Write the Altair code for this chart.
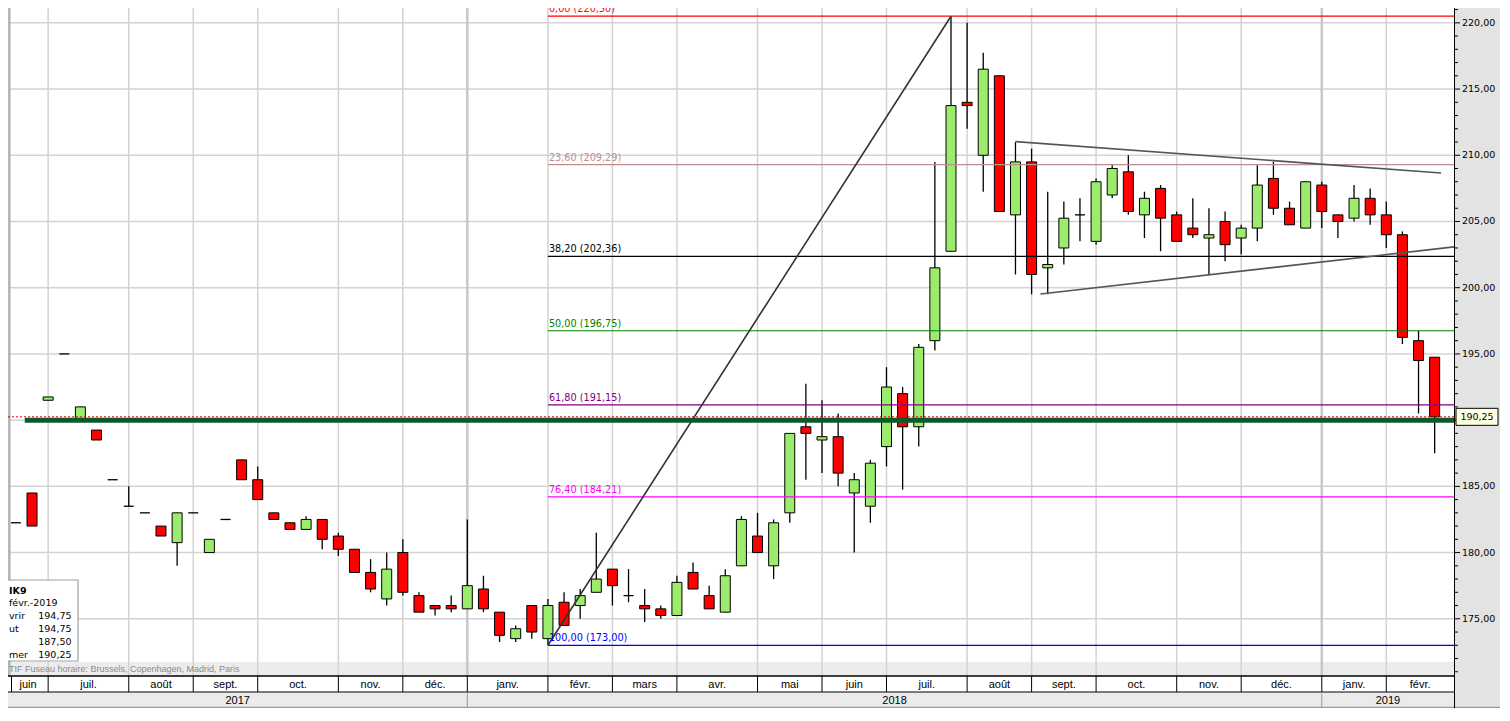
import altair as alt
import pandas as pd

# ---------------- data (weekly candles, week of 19 June 2017 -> week of 25 Feb 2019)
FIRST_WEEK = "2017-06-19"

opens = [
    182.25, 184.50, 191.50, 195.00, 190.10, 189.25, 185.50, 183.50, 183.00, 182.00,
    180.75, 183.00, 180.00, 182.50, 187.00, 185.50, 183.00, 182.25, 181.75, 182.50,
    181.25, 180.25, 178.50, 176.50, 180.00, 176.75, 176.00, 176.00, 175.75, 177.25,
    175.50, 173.50, 176.00, 173.50, 176.25, 176.00, 177.00, 178.75, 176.75, 176.00,
    175.75, 175.25, 178.50, 176.75, 175.50, 179.00, 181.25, 179.00, 183.00, 189.50,
    188.50, 188.75, 184.50, 183.50, 188.00, 192.00, 189.50, 196.00, 202.75, 214.00,
    210.00, 216.00, 205.50, 209.50, 201.50, 203.00, 205.50, 203.50, 207.00, 208.75,
    205.50, 207.50, 205.50, 204.50, 203.75, 205.00, 203.75, 204.50, 208.25, 206.00,
    204.50, 207.75, 205.50, 205.25, 206.75, 205.50, 204.00, 196.00, 194.75]
highs = [
    182.25, 184.50, 191.75, 195.00, 191.00, 189.25, 185.50, 185.00, 183.00, 182.00,
    183.00, 183.00, 181.00, 182.50, 187.00, 186.50, 183.00, 182.25, 182.75, 182.50,
    181.50, 180.25, 179.50, 180.00, 181.00, 177.00, 176.00, 176.75, 182.50, 178.25,
    175.50, 174.50, 176.00, 176.50, 177.00, 177.25, 181.50, 178.75, 178.75, 177.25,
    176.00, 178.25, 179.25, 177.50, 178.75, 182.75, 183.00, 182.50, 189.00, 192.75,
    191.50, 190.50, 186.00, 187.00, 194.00, 192.50, 195.75, 209.50, 220.50, 220.00,
    217.75, 216.00, 211.00, 210.50, 207.25, 206.50, 206.75, 208.25, 209.25, 210.00,
    207.25, 207.75, 205.75, 206.75, 206.00, 205.75, 204.75, 209.25, 209.50, 206.50,
    208.00, 208.00, 205.50, 207.75, 207.50, 206.50, 204.25, 196.75, 194.75]
lows = [
    182.25, 182.00, 191.50, 195.00, 190.10, 188.50, 185.50, 183.50, 183.00, 181.25,
    179.00, 183.00, 180.00, 182.50, 185.50, 184.00, 182.50, 181.75, 181.75, 180.25,
    179.75, 178.50, 177.00, 176.00, 176.75, 175.50, 175.25, 175.50, 175.75, 175.50,
    173.25, 173.25, 173.50, 173.00, 174.50, 175.00, 177.00, 176.00, 176.25, 174.75,
    175.00, 175.25, 177.25, 175.75, 175.50, 179.00, 180.00, 178.00, 182.25, 185.50,
    186.00, 185.00, 180.00, 182.25, 186.50, 184.75, 188.00, 195.25, 202.75, 212.00,
    207.25, 205.75, 201.00, 199.50, 199.50, 201.75, 203.50, 203.25, 206.75, 205.50,
    203.75, 202.75, 203.50, 203.75, 201.00, 202.00, 202.50, 203.50, 205.50, 204.75,
    204.50, 204.50, 203.75, 205.00, 204.75, 203.00, 195.75, 190.50, 187.50]
closes = [
    182.25, 182.00, 191.75, 195.00, 191.00, 188.50, 185.50, 183.50, 183.00, 181.25,
    183.00, 183.00, 181.00, 182.50, 185.50, 184.00, 182.50, 181.75, 182.50, 181.00,
    180.25, 178.50, 177.25, 178.75, 177.00, 175.50, 175.75, 175.75, 177.50, 175.75,
    173.75, 174.25, 174.00, 176.00, 174.50, 176.75, 178.00, 177.50, 176.75, 175.75,
    175.25, 177.75, 177.25, 175.75, 178.25, 182.50, 180.00, 182.25, 189.00, 189.00,
    188.75, 186.00, 185.50, 186.75, 192.50, 189.50, 195.50, 201.50, 213.75, 213.75,
    216.50, 205.75, 209.50, 201.00, 201.75, 205.25, 205.50, 208.00, 209.00, 205.75,
    206.75, 205.25, 203.50, 204.00, 204.00, 203.25, 204.50, 207.75, 206.00, 204.75,
    208.00, 205.75, 205.00, 206.75, 205.50, 204.00, 196.25, 194.50, 190.25]

# Fibonacci retracement (drawn from the week of 5 Feb 2018)
fib_pct = [0.0, 23.6, 38.2, 50.0, 61.8, 76.4, 100.0]
fib_val = [220.50, 209.29, 202.36, 196.75, 191.15, 184.21, 173.00]
fib_col = ["#ff0000", "#bc8f8f", "#000000", "#008000", "#800080", "#ff00ff", "#0000ff"]
FIB_FROM_WEEK = "2018-02-05"

# hand-drawn lines (week index, price)
seg_x1 = [33.0, 62.0, 63.55]
seg_y1 = [173.00, 211.03, 199.52]
seg_x2 = [58.0, 88.4, 89.2]
seg_y2 = [220.50, 208.66, 203.08]
seg_col = ["#333333", "#555555", "#555555"]

support_level = 190.00
support_from = 0.55

month_fr = {1: "janv.", 2: "févr.", 3: "mars", 4: "avr.", 5: "mai", 6: "juin",
            7: "juil.", 8: "août", 9: "sept.", 10: "oct.", 11: "nov.", 12: "déc."}

info_title = "IK9"
info_labels = ["févr.-2019", "vrir", "ut", "", "mer"]
tz_text = "TIF   Fuseau horaire: Brussels, Copenhagen, Madrid, Paris"

y_major = [175, 180, 185, 190, 195, 200, 205, 210, 215, 220]

# ---------------- layout
W, H = 1446, 668
ROW = 16
X_MIN, X_MAX = -0.49, 89.2
Y_MIN, Y_MAX = 170.68, 221.12
HALF = 0.31
UP, DOWN = "#9bec6c", "#ff0000"
GRID = "#d3d3d3"

n = len(opens)
weeks = pd.date_range(FIRST_WEEK, periods=n, freq="W-MON")
fib_from = int(list(weeks).index(pd.Timestamp(FIB_FROM_WEEK)))

def fr(v):
    return f"{v:.2f}".replace(".", ",")

cdf = pd.DataFrame({"idx": range(n), "o": opens, "h": highs, "l": lows, "c": closes})

month_starts = [i for i in range(n) if weeks[i].day <= 7]
year_starts = [i for i in month_starts if weeks[i].month == 1]

bounds = [X_MIN] + month_starts + [X_MAX]
mlab = [month_fr[weeks[0].month]] + [month_fr[weeks[i].month] for i in month_starts]
mdf = pd.DataFrame({"mid": [(bounds[k] + bounds[k + 1]) / 2 for k in range(len(mlab))],
                    "label": mlab})
ybounds = [X_MIN] + year_starts + [X_MAX]
ylab = [str(weeks[0].year)] + [str(weeks[i].year) for i in year_starts]
ydf = pd.DataFrame({"mid": [(ybounds[k] + ybounds[k + 1]) / 2 for k in range(len(ylab))],
                    "label": ylab})

gdf = pd.DataFrame({"idx": month_starts})
yrdf = pd.DataFrame({"idx": year_starts})

fdf = pd.DataFrame({"x0": [fib_from] * len(fib_val), "x1": [X_MAX] * len(fib_val),
                    "v": fib_val, "col": fib_col,
                    "label": [f"{fr(p)} ({fr(v)})" for p, v in zip(fib_pct, fib_val)]})
sdf = pd.DataFrame({"x1": seg_x1, "y1": seg_y1, "x2": seg_x2, "y2": seg_y2, "col": seg_col})
supdf = pd.DataFrame({"x0": [support_from], "x1": [X_MAX], "v": [support_level]})
lastdf = pd.DataFrame({"x0": [X_MIN], "x1": [X_MAX], "v": [closes[-1]], "t": [fr(closes[-1])]})
minor = [v for v in range(int(Y_MIN) + 1, int(Y_MAX) + 1) if v % 5 != 0]
minordf = pd.DataFrame({"v": minor})
majordf = pd.DataFrame({"v": y_major, "t": [fr(v) for v in y_major]})
# the last-price marker hides the axis label it covers
labdf = majordf[(majordf["v"] - closes[-1]).abs() > 1.0]

one = pd.DataFrame({"k": [0]})

xs = alt.Scale(domain=[X_MIN, X_MAX], nice=False, zero=False)
ys = alt.Scale(domain=[Y_MIN, Y_MAX], nice=False, zero=False)

def X(f):
    return alt.X(f, type="quantitative", scale=xs, axis=None)

def Y(f):
    return alt.Y(f, type="quantitative", scale=ys, axis=None)

def PY(f):
    return alt.Y(f, type="quantitative", scale=None, axis=None)

# price axis (drawn by hand on the right)
hgrid = alt.Chart(majordf).mark_rule(color=GRID, strokeWidth=1.5).encode(y=Y("v"))
major_ticks = alt.Chart(majordf).mark_rule(color="black", strokeWidth=1).encode(
    x=alt.value(W), x2=alt.value(W + 6), y=Y("v"))
major_labels = alt.Chart(labdf).mark_text(align="left", baseline="middle",
                                          font="DejaVu Sans", fontSize=9.5,
                                          color="black").encode(
    x=alt.value(W + 8), y=Y("v"), text="t:N")
minor_ticks = alt.Chart(minordf).mark_rule(color="black", strokeWidth=1).encode(
    x=alt.value(W), x2=alt.value(W + 4), y=Y("v"))
axis_line = alt.Chart(one).mark_rule(color="black", strokeWidth=1).encode(
    x=alt.value(W + 0.5), y=alt.value(0), y2=alt.value(H + 2 * ROW))

# bottom band
tz_band = alt.Chart(one).mark_rect(fill="#dcdcdc", opacity=0.55).encode(
    x=alt.value(0), x2=alt.value(W), y=alt.value(H - 14), y2=alt.value(H))
month_row = alt.Chart(one).mark_rect(fill="white").encode(
    x=alt.value(0), x2=alt.value(W), y=alt.value(H), y2=alt.value(H + ROW))
year_row = alt.Chart(one).mark_rect(fill="#ebebeb").encode(
    x=alt.value(0), x2=alt.value(W), y=alt.value(H + ROW), y2=alt.value(H + 2 * ROW))

vgrid = alt.Chart(gdf).mark_rule(color=GRID, strokeWidth=1.5).encode(x=X("idx"))
ygrid = alt.Chart(yrdf).mark_rule(color="#c8c8c8", strokeWidth=2.5).encode(x=X("idx"))
left_edge = alt.Chart(one).mark_rule(color="#b4b4b4", strokeWidth=2.5).encode(
    x=alt.value(1.3), y=alt.value(0), y2=alt.value(H))

wick = alt.Chart(cdf).mark_rule(color="black", strokeWidth=1.3).encode(
    x=X("idx"), y=Y("l"), y2="h")
body = alt.Chart(cdf).transform_filter("datum.o != datum.c").transform_calculate(
    xa=f"datum.idx - {HALF}", xb=f"datum.idx + {HALF}").mark_rect(
    stroke="black", strokeWidth=1).encode(
    x=X("xa:Q"), x2="xb:Q", y=Y("o"), y2="c",
    fill=alt.condition("datum.c > datum.o", alt.value(UP), alt.value(DOWN)))
doji = alt.Chart(cdf).transform_filter("datum.o == datum.c").transform_calculate(
    xa=f"datum.idx - {HALF}", xb=f"datum.idx + {HALF}").mark_rule(
    color="black", strokeWidth=1.3).encode(x=X("xa:Q"), x2="xb:Q", y=Y("o"))

fib_lines = alt.Chart(fdf).mark_rule(strokeWidth=1.2).encode(
    x=X("x0"), x2="x1", y=Y("v"), color=alt.Color("col:N", scale=None))
fib_text = alt.Chart(fdf).mark_text(align="left", baseline="bottom", dx=1, dy=-2,
                                    font="DejaVu Sans", fontSize=9.7).encode(
    x=X("x0"), y=Y("v"), text="label:N", color=alt.Color("col:N", scale=None))

segs = alt.Chart(sdf).mark_rule(strokeWidth=1.6).encode(
    x=X("x1"), x2="x2", y=Y("y1"), y2="y2", color=alt.Color("col:N", scale=None))

support = alt.Chart(supdf).mark_rule(color="#0c5a2c", strokeWidth=5).encode(
    x=X("x0"), x2="x1", y=Y("v"))
last_line = alt.Chart(lastdf).mark_rule(color="#e00000", strokeWidth=1,
                                        strokeDash=[2, 2]).encode(
    x=X("x0"), x2="x1", y=Y("v"))

price_box = alt.Chart(lastdf).mark_point(
    shape="M-1,-0.405L1,-0.405L1,0.405L-1,0.405Z", size=1764, filled=True,
    fill="#ffffe1", stroke="black", strokeWidth=1, opacity=1).encode(
    x=alt.value(W + 23), y=Y("v"))
price_text = alt.Chart(lastdf).mark_text(font="DejaVu Sans", fontSize=9.5,
                                         baseline="middle", align="center",
                                         color="black").encode(
    x=alt.value(W + 23), y=Y("v"), text="t:N")

# month / year rows
row_lines = alt.Chart(pd.DataFrame({"py": [H, H + ROW], "w": [1.5, 1]})).mark_rule(
    color="black").encode(x=alt.value(0), x2=alt.value(W), y=PY("py"),
                          strokeWidth=alt.StrokeWidth("w:Q", scale=None))
bottom_line = alt.Chart(one).mark_rule(color="#9a9a9a", strokeWidth=1.5).encode(
    x=alt.value(0), x2=alt.value(W + 46), y=alt.value(H + 2 * ROW - 0.5))
month_sep = alt.Chart(gdf).mark_rule(color="black", strokeWidth=1).encode(
    x=X("idx"), y=alt.value(H), y2=alt.value(H + ROW))
month_left = alt.Chart(one).mark_rule(color="black", strokeWidth=1).encode(
    x=alt.value(3.5), y=alt.value(H), y2=alt.value(H + ROW))
year_sep = alt.Chart(yrdf).mark_rule(color="#9a9a9a", strokeWidth=1).encode(
    x=X("idx"), y=alt.value(H + ROW), y2=alt.value(H + 2 * ROW))
month_text = alt.Chart(mdf).mark_text(font="Liberation Sans", fontSize=11,
                                      baseline="middle", color="black").encode(
    x=X("mid"), y=alt.value(H + ROW / 2 + 0.5), text="label:N")
year_text = alt.Chart(ydf).mark_text(font="Liberation Sans", fontSize=11,
                                     baseline="middle", color="black").encode(
    x=X("mid"), y=alt.value(H + ROW * 1.5 + 0.5), text="label:N")

tz = alt.Chart(one).mark_text(text=tz_text, align="left", baseline="middle",
                              font="Liberation Sans", fontSize=9,
                              color="#8a8a8a").encode(x=alt.value(1), y=alt.value(H - 7))

# info box (bottom left)
info_box = alt.Chart(one).mark_rect(fill="white", stroke="#a0a0a0",
                                    strokeWidth=1.2).encode(
    x=alt.value(-5), x2=alt.value(70), y=alt.value(572), y2=alt.value(653))
info_vals = ["", fr(opens[-1]), fr(highs[-1]), fr(lows[-1]), fr(closes[-1])]
idf = pd.DataFrame({"py": [595.2 + 12.95 * k for k in range(len(info_labels))],
                    "lab": info_labels, "val": info_vals})
info_l = alt.Chart(idf).mark_text(align="left", baseline="middle", font="DejaVu Sans",
                                  fontSize=9.5, color="black").encode(
    x=alt.value(1), y=PY("py"), text="lab:N")
info_r = alt.Chart(idf).mark_text(align="right", baseline="middle", font="DejaVu Sans",
                                  fontSize=9.5, color="black").encode(
    x=alt.value(63.5), y=PY("py"), text="val:N")
info_t = alt.Chart(one).mark_text(text=info_title, align="left", baseline="middle",
                                  font="DejaVu Sans", fontSize=9.5, fontWeight="bold",
                                  color="black").encode(x=alt.value(1), y=alt.value(583))

chart = alt.layer(
    tz_band, month_row, year_row, hgrid, vgrid, ygrid, left_edge,
    wick, body, doji,
    fib_lines, segs, support, last_line, fib_text,
    info_box, info_t, info_l, info_r, tz,
    row_lines, bottom_line, month_sep, month_left, year_sep, month_text, year_text,
    axis_line, major_ticks, minor_ticks, major_labels, price_box, price_text,
).properties(
    width=W, height=H,
    padding={"left": 0, "top": 0, "right": 46, "bottom": 2 * ROW},
    autosize=alt.AutoSizeParams(type="none"),
    background="#e3e3e3",
).configure_view(fill="white", strokeWidth=0)

chart.save("out.html", embed_options={"renderer": "svg", "actions": False})
